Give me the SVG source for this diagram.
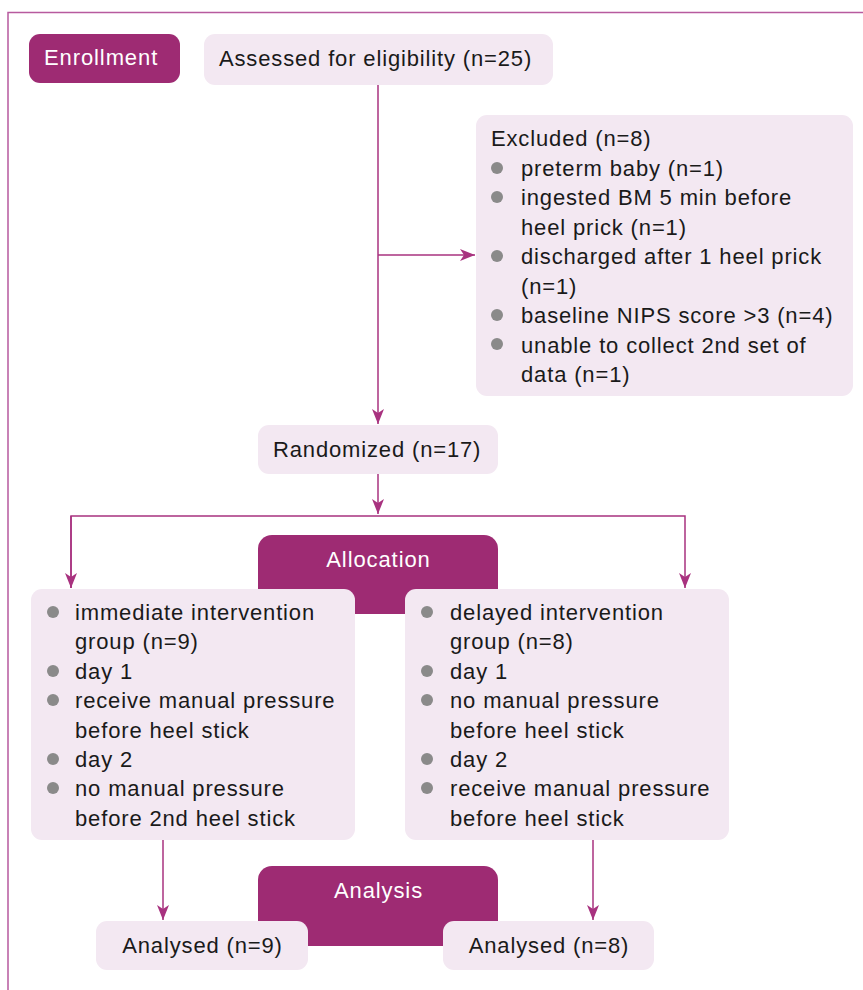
<svg xmlns="http://www.w3.org/2000/svg" width="863" height="990" viewBox="0 0 863 990">
<style>
.dark{fill:#9e2b73;}
.light{fill:#f3e8f2;}
.t{font-family:"Liberation Sans",Arial,sans-serif;font-size:22px;letter-spacing:0.85px;fill:#1a1a1a;}
.w{font-family:"Liberation Sans",Arial,sans-serif;font-size:22px;letter-spacing:0.9px;fill:#ffffff;}
.b{fill:#8a8a8a;}
.c{fill:none;stroke:#a8327f;stroke-width:1.5;}
</style>
<defs>
<marker id="ah" markerWidth="16" markerHeight="12" viewBox="0 0 16 12" refX="15" refY="6" orient="auto" markerUnits="userSpaceOnUse">
<path d="M0,0 L15,6 L0,12 L4,6 Z" fill="#a8327f"/>
</marker>
</defs>
<path d="M8,990 V12.5 H863" fill="none" stroke="#b75a9e" stroke-width="1.5"/>
<g id="enrollment">
<rect x="29" y="34" width="151" height="49" rx="11" class="dark"/>
<text x="44" y="65" class="w">Enrollment</text>
</g>
<g id="assessed">
<rect x="204" y="34" width="349" height="51" rx="11" class="light"/>
<text x="219" y="66" class="t">Assessed for eligibility (n=25)</text>
</g>
<g id="excluded">
<rect x="476" y="115" width="377" height="281" rx="11" class="light"/>
<text x="491" y="146" class="t">Excluded (n=8)</text>
<circle cx="497" cy="168" r="6" class="b"/>
<text x="521" y="175.5" class="t">preterm baby (n=1)</text>
<circle cx="497" cy="197" r="6" class="b"/>
<text x="521" y="205" class="t">ingested BM 5 min before</text>
<text x="521" y="234.5" class="t">heel prick (n=1)</text>
<circle cx="497" cy="256" r="6" class="b"/>
<text x="521" y="264" class="t">discharged after 1 heel prick</text>
<text x="521" y="293.5" class="t">(n=1)</text>
<circle cx="497" cy="315" r="6" class="b"/>
<text x="521" y="323" class="t">baseline NIPS score &gt;3 (n=4)</text>
<circle cx="497" cy="344" r="6" class="b"/>
<text x="521" y="352.5" class="t">unable to collect 2nd set of</text>
<text x="521" y="382" class="t">data (n=1)</text>
</g>
<g id="randomized">
<rect x="258" y="425" width="240" height="49" rx="11" class="light"/>
<text x="273" y="457" class="t">Randomized (n=17)</text>
</g>
<g id="allocation">
<rect x="258" y="535" width="240" height="79" rx="14" class="dark"/>
<text x="378.5" y="567" class="w" text-anchor="middle">Allocation</text>
</g>
<g id="immediate">
<rect x="31" y="589" width="324" height="251" rx="11" class="light"/>
<circle cx="53" cy="612" r="6" class="b"/>
<text x="75" y="619.5" class="t">immediate intervention</text>
<text x="75" y="649" class="t">group (n=9)</text>
<circle cx="53" cy="671" r="6" class="b"/>
<text x="75" y="678.5" class="t">day 1</text>
<circle cx="53" cy="700" r="6" class="b"/>
<text x="75" y="708" class="t">receive manual pressure</text>
<text x="75" y="737.5" class="t">before heel stick</text>
<circle cx="53" cy="759" r="6" class="b"/>
<text x="75" y="767" class="t">day 2</text>
<circle cx="53" cy="788" r="6" class="b"/>
<text x="75" y="796" class="t">no manual pressure</text>
<text x="75" y="825.5" class="t">before 2nd heel stick</text>
</g>
<g id="delayed">
<rect x="405" y="589" width="324" height="251" rx="11" class="light"/>
<circle cx="427" cy="612" r="6" class="b"/>
<text x="450" y="619.5" class="t">delayed intervention</text>
<text x="450" y="649" class="t">group (n=8)</text>
<circle cx="427" cy="671" r="6" class="b"/>
<text x="450" y="678.5" class="t">day 1</text>
<circle cx="427" cy="700" r="6" class="b"/>
<text x="450" y="708" class="t">no manual pressure</text>
<text x="450" y="737.5" class="t">before heel stick</text>
<circle cx="427" cy="759" r="6" class="b"/>
<text x="450" y="767" class="t">day 2</text>
<circle cx="427" cy="788" r="6" class="b"/>
<text x="450" y="796" class="t">receive manual pressure</text>
<text x="450" y="825.5" class="t">before heel stick</text>
</g>
<g id="analysis">
<rect x="258" y="866" width="240" height="80" rx="14" class="dark"/>
<text x="378.5" y="898" class="w" text-anchor="middle">Analysis</text>
</g>
<g id="analysed9">
<rect x="96" y="921" width="212" height="49" rx="11" class="light"/>
<text x="202.5" y="953" class="t" text-anchor="middle">Analysed (n=9)</text>
</g>
<g id="analysed8">
<rect x="443" y="921" width="211" height="49" rx="11" class="light"/>
<text x="549" y="953" class="t" text-anchor="middle">Analysed (n=8)</text>
</g>
<g id="connectors">
<path class="c" d="M378,85 V424" marker-end="url(#ah)"/>
<path class="c" d="M378,255 H475" marker-end="url(#ah)"/>
<path class="c" d="M378,474 V514" marker-end="url(#ah)"/>
<path class="c" d="M71,588 V516 H685 V588" marker-end="url(#ah)"/>
<path class="c" d="M71,516 V588" marker-end="url(#ah)"/>
<path class="c" d="M163,840 V920" marker-end="url(#ah)"/>
<path class="c" d="M593,840 V920" marker-end="url(#ah)"/>
</g>
</svg>
